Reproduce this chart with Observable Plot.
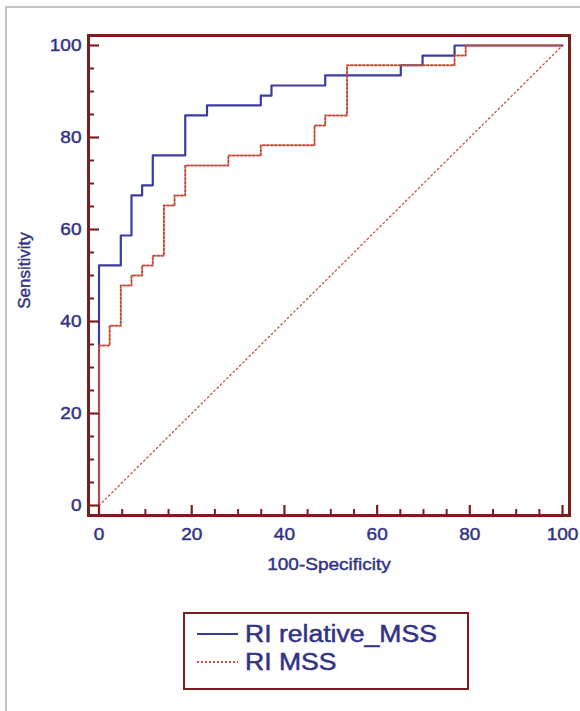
<!DOCTYPE html>
<html>
<head>
<meta charset="utf-8">
<script src="https://cdn.jsdelivr.net/npm/d3@7"></script>
<script src="https://cdn.jsdelivr.net/npm/@observablehq/plot@0.6"></script>
<style>
  html, body { margin: 0; padding: 0; background: #fff; }
  #page { position: relative; width: 580px; height: 711px; overflow: hidden; background: #fff; }
  #chart svg { display: block; }
  #chart svg text { stroke: #333385; stroke-width: 0.45px; }
  #edge { position: absolute; left: 5px; top: 6px; width: 600px; height: 720px;
          border-left: 2px solid #c4c4c4; border-top: 2px solid #c4c4c4; pointer-events: none; }
  #legend { position: relative; margin-left: 183px; margin-top: 12px; width: 282px; height: 74px;
            border: 2px solid #7a1e1e; font-family: "Liberation Sans", Arial, sans-serif; color: #333385; }
  .row { position: absolute; left: 0; height: 28px; width: 282px; display: flex; align-items: center; }
  .sw { position: absolute; left: 12px; width: 41px; height: 2px; }
  .lab { position: absolute; left: 60px; font-size: 23.5px; line-height: 28px; white-space: nowrap;
         display: inline-block; transform: scaleX(1.13); transform-origin: left center;
         -webkit-text-stroke: 0.5px #333385; }
</style>
</head>
<body>
<div id="page">
  <div id="chart"></div>
  <div id="legend"></div>
  <div id="edge"></div>
</div>
<script>
// ---- data ----
const seriesNames = ["RI relative_MSS", "RI MSS"];
// RI relative_MSS ROC step corners: 100-Specificity (x) and Sensitivity (y)
const relX = [0, 0, 4.7, 7.0, 9.3, 11.6, 18.6, 23.3, 34.9, 37.2, 48.8, 65.1, 69.8, 76.7, 100];
const relY = [0, 52.2, 58.7, 67.4, 69.6, 76.1, 84.8, 87.0, 89.1, 91.3, 93.5, 95.7, 97.8, 100, 100];
// RI MSS ROC step corners
const mssX = [0, 0, 2.3, 4.7, 7.0, 9.3, 11.6, 14.0, 16.3, 18.6, 27.9, 34.9, 46.5, 48.8, 53.5, 76.7, 79.1, 100];
const mssY = [0, 34.8, 39.1, 47.8, 50.0, 52.2, 54.3, 65.2, 67.4, 73.9, 76.1, 78.3, 82.6, 84.8, 95.7, 97.8, 100, 100];
// reference diagonal
const diagX = [0, 100];
const diagY = [0, 100];
// ticks
const majorTicks = [0, 20, 40, 60, 80, 100];
const minorTicks = [5, 10, 15, 25, 30, 35, 45, 50, 55, 65, 70, 75, 85, 90, 95];
const xTitle = "100-Specificity";
const yTitle = "Sensitivity";

// ---- styling ----
const NAVY = "#333385";
const BLUE = "#3c3ca0";
const RED = "#c4503c";
const FRAME = "#7a1e1e";

const rel = relX.map((x, i) => ({x, y: relY[i]}));
const mss = mssX.map((x, i) => ({x, y: mssY[i]}));
const diag = diagX.map((x, i) => ({x, y: diagY[i]}));

const plot = Plot.plot({
  width: 580,
  height: 600,
  marginLeft: 88,
  marginRight: 11,
  marginTop: 35,
  marginBottom: 85,
  style: {fontFamily: '"Liberation Sans", Arial, sans-serif', fontSize: "17px", color: NAVY, background: "white"},
  x: {domain: [-2.27, 101.5], ticks: majorTicks, tickSize: 0, tickPadding: 12, label: null},
  y: {domain: [-2.17, 102.17], ticks: majorTicks, tickSize: 0, tickPadding: 7, label: null},
  marks: [
    Plot.line(diag, {x: "x", y: "y", stroke: RED, strokeWidth: 1.3, strokeDasharray: "1.5,3"}),
    Plot.line(rel, {x: "x", y: "y", curve: "step-after", stroke: BLUE, strokeWidth: 2.2}),
    Plot.line(mss, {x: "x", y: "y", curve: "step-after", stroke: RED, strokeWidth: 2, strokeDasharray: "2,2"}),
    Plot.tickY(majorTicks, {y: d => d, stroke: FRAME, strokeWidth: 2.2, insetRight: 470}),
    Plot.tickY(minorTicks, {y: d => d, stroke: FRAME, strokeWidth: 2, insetRight: 475}),
    Plot.tickX(majorTicks, {x: d => d, stroke: FRAME, strokeWidth: 2.2, insetTop: 470}),
    Plot.tickX(minorTicks, {x: d => d, stroke: FRAME, strokeWidth: 2, insetTop: 474}),
    Plot.frame({stroke: FRAME, strokeWidth: 3}),
    Plot.text([xTitle], {text: d => d, frameAnchor: "bottom", textAnchor: "middle", dy: 54, fill: NAVY, fontSize: 17}),
    Plot.text([yTitle], {text: d => d, frameAnchor: "left", textAnchor: "middle", dx: -64, dy: -5, rotate: -90, fill: NAVY, fontSize: 17})
  ]
});
document.getElementById("chart").appendChild(plot);

// the reference text is horizontally stretched: widen horizontal texts
plot.querySelectorAll("text").forEach(t => {
  const tr = t.getAttribute("transform") || "";
  if (tr.includes("rotate")) return;
  t.setAttribute("transform", (tr ? tr + " " : "") + "scale(1.12,1)");
});

// legend (HTML, below the SVG)
const legend = document.getElementById("legend");
const swatches = [
  `background:${BLUE}; height:2px;`,
  `background: repeating-linear-gradient(to right, ${RED} 0 2px, transparent 2px 4px); height:2px;`
];
seriesNames.forEach((name, i) => {
  const row = document.createElement("div");
  row.className = "row";
  row.style.top = (6 + i * 28) + "px";
  const sw = document.createElement("div");
  sw.className = "sw";
  sw.setAttribute("style", swatches[i]);
  const lab = document.createElement("span");
  lab.className = "lab";
  lab.textContent = name;
  row.appendChild(sw);
  row.appendChild(lab);
  legend.appendChild(row);
});
</script>
</body>
</html>
